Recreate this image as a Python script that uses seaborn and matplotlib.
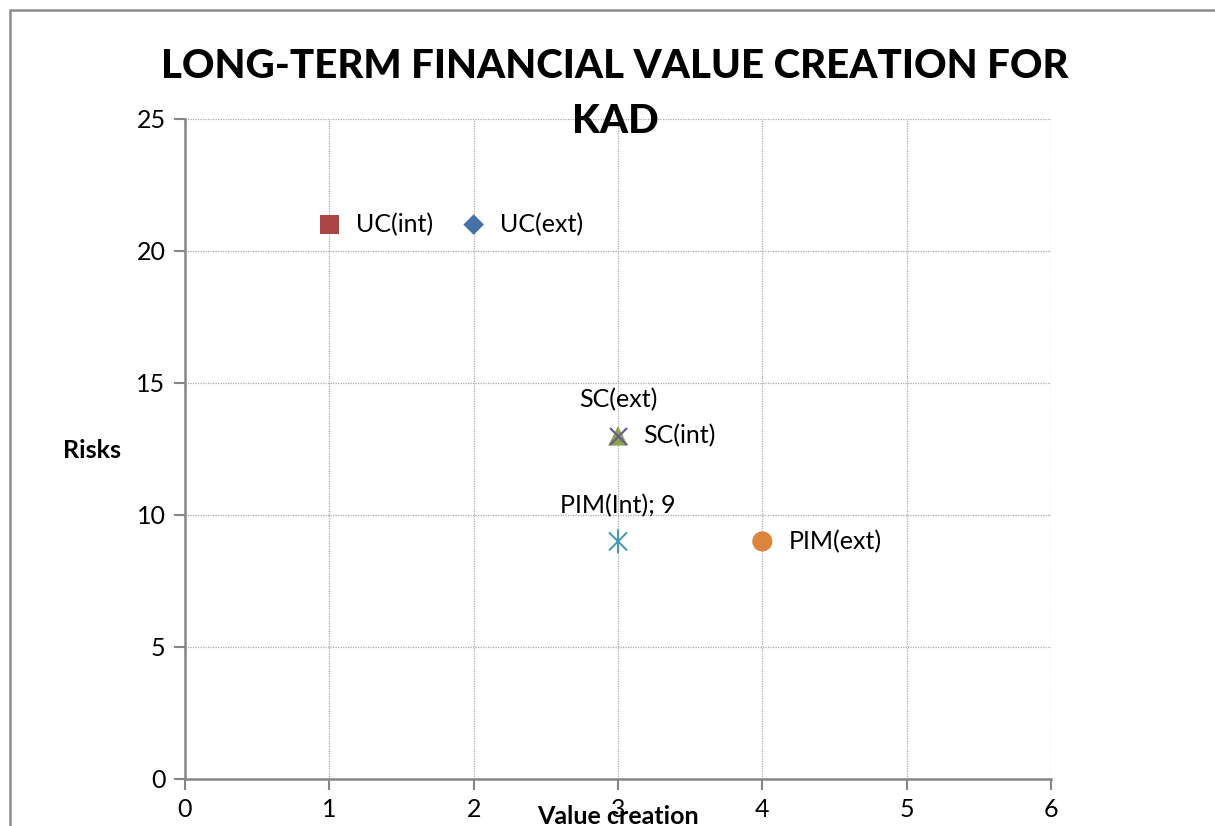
import matplotlib
matplotlib.use("Agg")
import matplotlib.pyplot as plt
from matplotlib.patches import Rectangle
from matplotlib.path import Path
import seaborn as sns
import pandas as pd

# Positions of the business units
labels = ["UC(int)", "UC(ext)", "SC(int)", "SC(ext)", "PIM(Int); 9", "PIM(ext)"]
value_creation = [1, 2, 3, 3, 3, 4]
risks = [21, 21, 13, 13, 9, 9]

x_ticks = [0, 1, 2, 3, 4, 5, 6]
y_ticks = [0, 5, 10, 15, 20, 25]

colors = ["#AA4643", "#4572A7", "#89A54E", "#71588F", "#4198AF", "#DB843D"]

# asterisk: vertical stroke plus an x
asterisk = Path(
    [(0, -1), (0, 1), (-0.75, -0.75), (0.75, 0.75), (-0.75, 0.75), (0.75, -0.75)],
    [Path.MOVETO, Path.LINETO, Path.MOVETO, Path.LINETO, Path.MOVETO, Path.LINETO],
)
markers = ["s", "D", "^", "x", asterisk, "o"]
sizes = [200, 110, 200, 150, 300, 210]
# label placement: (dx points, dy points, ha)
label_pos = [
    (19, 0, "left"),
    (19, 0, "left"),
    (18, 0, "left"),
    (0, 26, "center"),
    (0, 26, "center"),
    (19, 0, "left"),
]

df = pd.DataFrame({"label": labels, "x": value_creation, "y": risks})

sns.set_theme(style="white")
plt.rcParams["font.family"] = ["Lato", "DejaVu Sans"]
plt.rcParams["text.color"] = "black"
plt.rcParams["axes.labelcolor"] = "black"
plt.rcParams["xtick.color"] = "#868686"
plt.rcParams["ytick.color"] = "#868686"
plt.rcParams["xtick.labelcolor"] = "black"
plt.rcParams["ytick.labelcolor"] = "black"

FS = 18

fig = plt.figure(figsize=(12.15, 8.26), dpi=100)
fig.patch.set_facecolor("white")
ax = fig.add_axes([185 / 1215, 1 - 779 / 826, (1051 - 185) / 1215, (779 - 119) / 826])

for i, row in df.iterrows():
    m = markers[i]
    if isinstance(m, str) and m == "x":
        kw = dict(color=colors[i], linewidth=1.6)
    elif m is asterisk:
        kw = dict(facecolor="none", edgecolor=colors[i], linewidth=1.4)
    else:
        kw = dict(color=colors[i], edgecolor="none")
    sns.scatterplot(
        x=[row["x"]], y=[row["y"]], ax=ax, marker=m, s=sizes[i],
        legend=False, zorder=3 + i, **kw,
    )
    dx, dy, ha = label_pos[i]
    ax.annotate(row["label"], (row["x"], row["y"]), xytext=(dx, dy),
                textcoords="offset points", ha=ha, va="center", fontsize=FS,
                color="black", zorder=10)

ax.set_xlim(0, 6)
ax.set_ylim(0, 25)
ax.set_xticks(x_ticks)
ax.set_yticks(y_ticks)
ax.set_xticklabels([str(t) for t in x_ticks], fontsize=FS)
ax.set_yticklabels([str(t) for t in y_ticks], fontsize=FS)
ax.tick_params(axis="both", length=8, width=1.5, pad=6,
               direction="out", bottom=True, left=True)
ax.grid(True, linestyle=(0, (1, 1)), color="#A8A8A8", linewidth=0.9)
for side in ("top", "right"):
    ax.spines[side].set_visible(False)
for side in ("left", "bottom"):
    ax.spines[side].set_color("#868686")
    ax.spines[side].set_linewidth(1.8)
ax.set_axisbelow(True)

ax.set_xlabel("Value creation", fontsize=FS, fontweight="bold", labelpad=-12)
ax.set_ylabel("Risks", fontsize=FS, fontweight="bold", rotation=0,
              ha="center", va="center")
ax.yaxis.set_label_coords(-0.107, 0.497)

fig.text(615 / 1215, 1 - 94 / 826, "LONG-TERM FINANCIAL VALUE CREATION FOR\nKAD",
         ha="center", va="center", fontsize=29, fontweight="black",
         color="black", linespacing=1.58)

# chart area border (continues beyond the right and bottom edges)
fig.patches.append(Rectangle((9.5 / 1215, -0.1), 1.2, 1 - 9.5 / 826 + 0.1,
                             transform=fig.transFigure, fill=False,
                             edgecolor="#8C8C8C", linewidth=1.8))

fig.savefig("out.png", dpi=100)
